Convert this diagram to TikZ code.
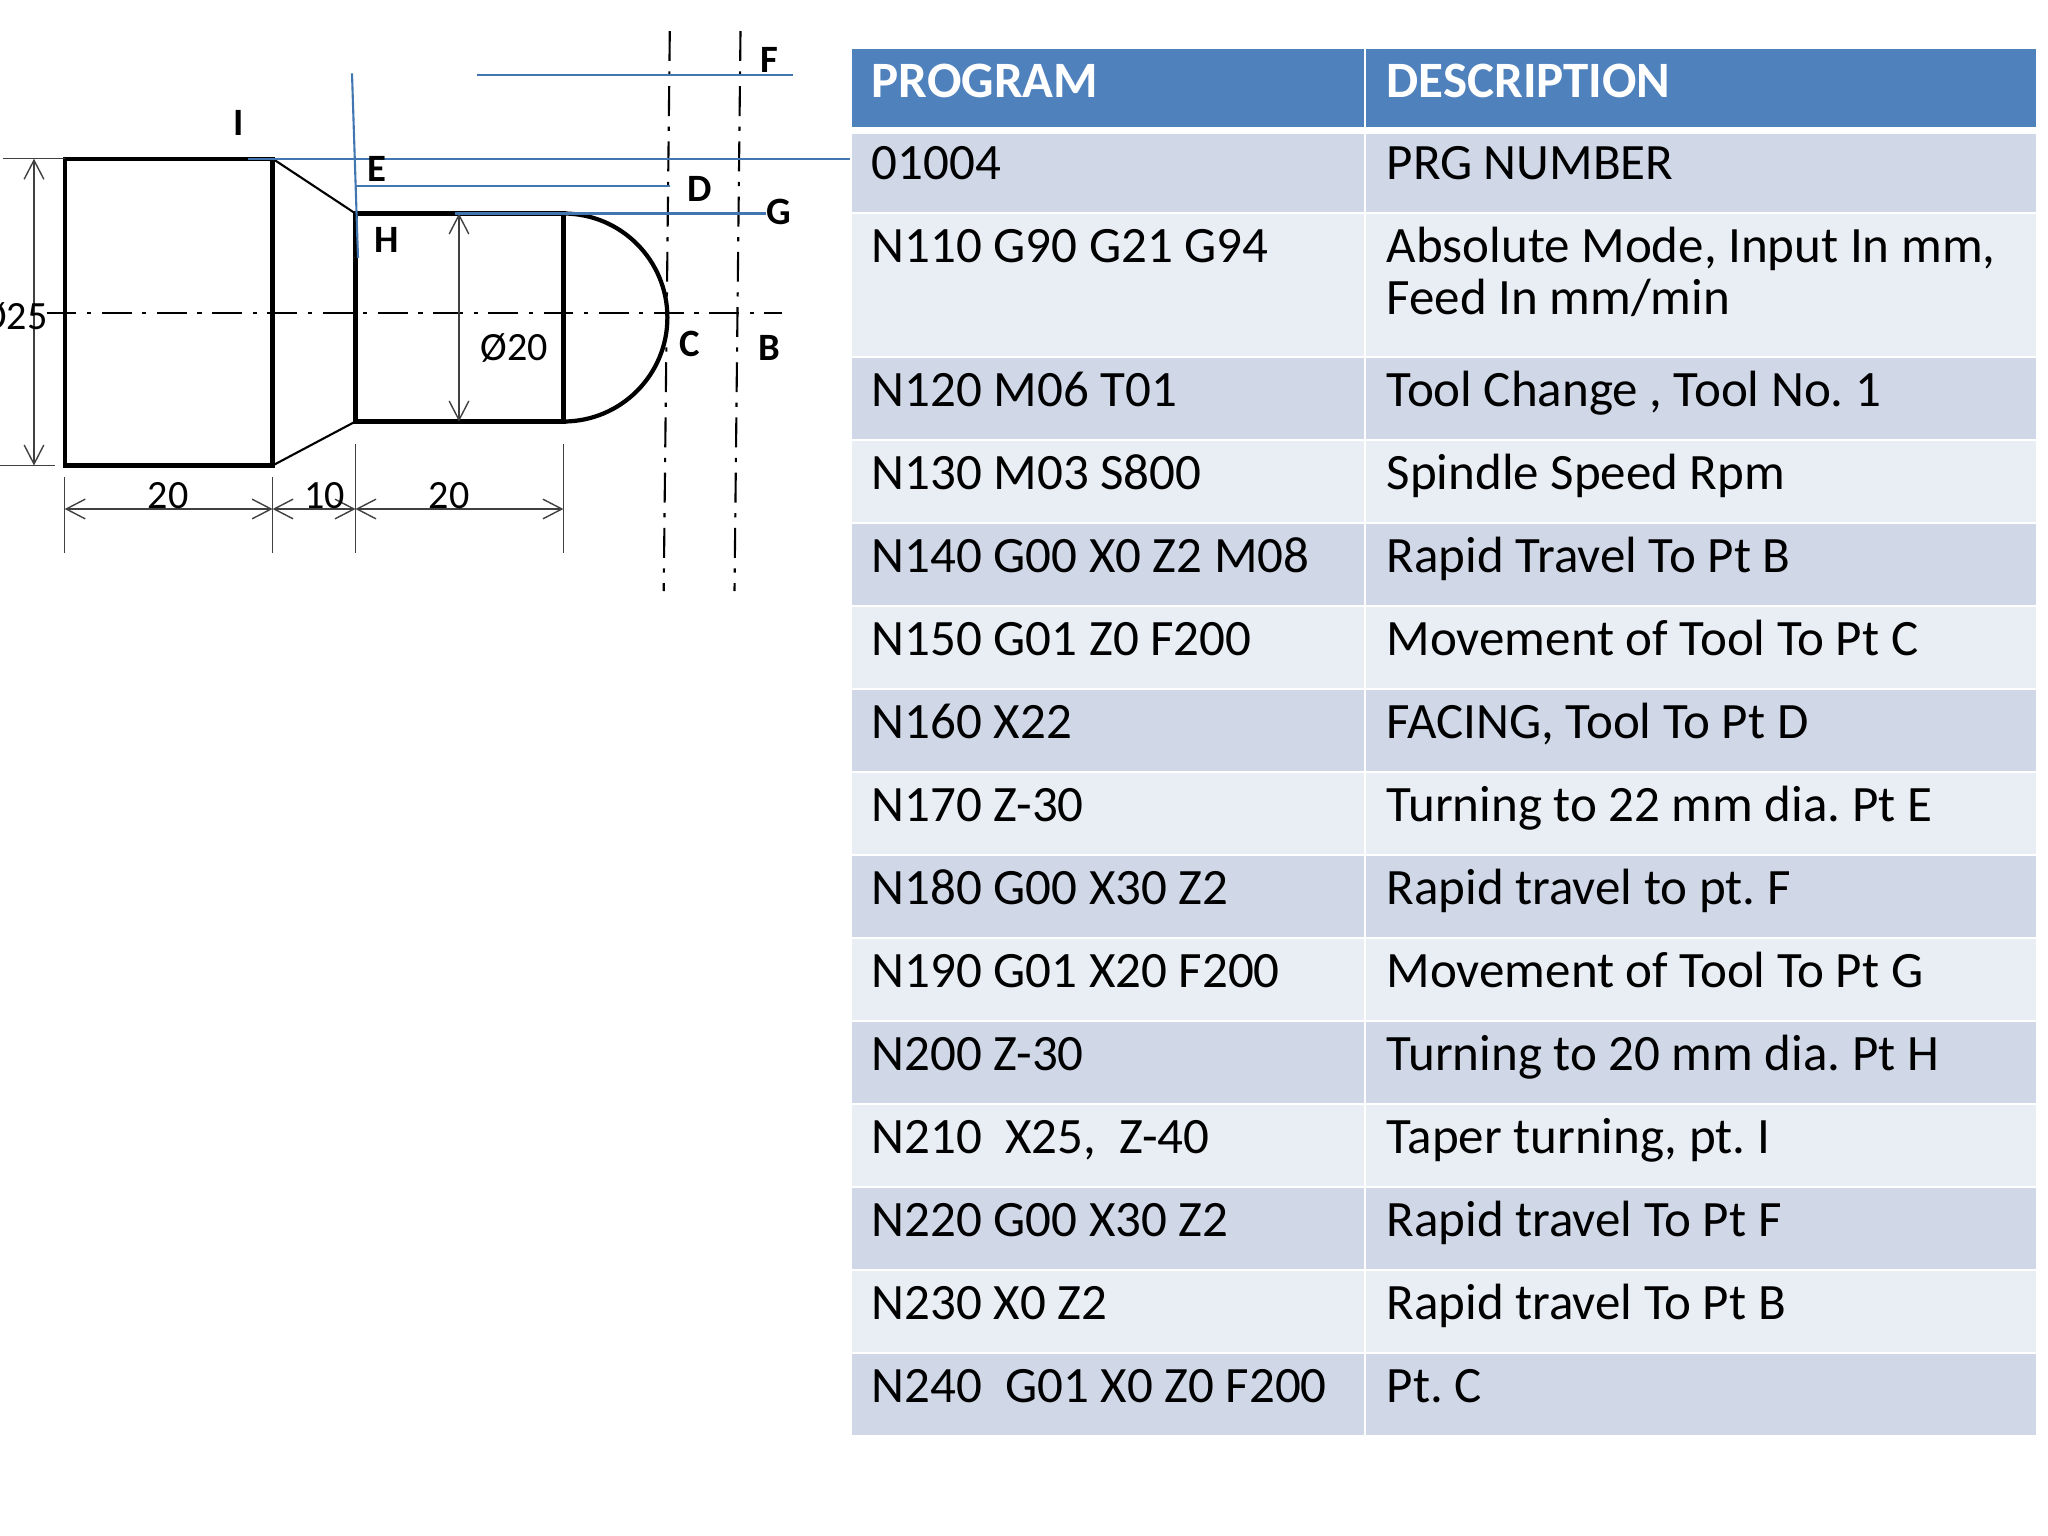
\documentclass[tikz,border=0pt]{standalone}
\usepackage{fontspec}
\setmainfont{Carlito}
\usetikzlibrary{arrows.meta}
\frenchspacing
\definecolor{headblue}{HTML}{4F81BD}
\definecolor{rowdark}{HTML}{D0D8E8}
\definecolor{rowlight}{HTML}{E9EDF4}
\definecolor{toolblue}{HTML}{4276B0}
\definecolor{dimgrey}{HTML}{404040}
\tikzset{
    partline/.style={black,line width=1.2pt},
    taperline/.style={black,line width=0.6pt},
    dimline/.style={dimgrey,line width=0.4pt},
    centerline/.style={black,line width=0.6pt,dash pattern=on 8.5pt off 3pt on 1.2pt off 3pt},
    toolline/.style={toolblue,line width=0.6pt},
    dimtext/.style={inner sep=0pt,font=\fontsize{11.4}{13.7}\selectfont},
    pointtext/.style={inner sep=0pt,font=\fontsize{11}{13.2}\selectfont\bfseries},
    celltext/.style={anchor=base west,inner sep=0pt,font=\fontsize{14.5}{17.4}\selectfont},
    headtext/.style={celltext,white,font=\fontsize{14.5}{17.4}\selectfont\bfseries},
    >={Straight Barb[length=5.4pt,width=5.6pt]}
}
\begin{document}
\begin{tikzpicture}[x=0.01cm,y=-0.01cm]
        \useasboundingbox (0,0) rectangle (2048,1536);
        % table
        \fill[headblue] (852,49) rectangle (1364,127);
        \fill[headblue] (1366,49) rectangle (2036,127);
        \node[headtext] (headprog) at (871,97) {PROGRAM};
        \node[headtext] (headdesc) at (1386,97) {DESCRIPTION};
        \fill[rowdark] (852,134) rectangle (1364,212);
        \fill[rowdark] (1366,134) rectangle (2036,212);
        \node[celltext] (prognum) at (871,179.5) {01004};
        \node[celltext] (descnum) at (1386,179.5) {PRG NUMBER};
        \fill[rowlight] (852,214) rectangle (1364,356);
        \fill[rowlight] (1366,214) rectangle (2036,356);
        \node[celltext] (prgmode) at (871,262.5) {N110 G90 G21 G94};
        \node[celltext] (descmode) at (1386,262.5) {Absolute Mode, Input In mm,};
        \node[celltext] (descfeed) at (1386,314) {Feed In mm/min};
        \foreach \t/\rowcol/\prog/\desc in {
            358/rowdark/{N120 M06 T01}/{Tool Change , Tool No. 1},
            441/rowlight/{N130 M03 S800}/{Spindle Speed Rpm},
            524/rowdark/{N140 G00 X0 Z2 M08}/{Rapid Travel To Pt B},
            607/rowlight/{N150 G01 Z0 F200}/{Movement of Tool To Pt C},
            690/rowdark/{N160 X22}/{FACING, Tool To Pt D},
            773/rowlight/{N170 Z-30}/{Turning to 22 mm dia. Pt E},
            856/rowdark/{N180 G00 X30 Z2}/{Rapid travel to pt. F},
            939/rowlight/{N190 G01 X20 F200}/{Movement of Tool To Pt G},
            1022/rowdark/{N200 Z-30}/{Turning to 20 mm dia. Pt H},
            1105/rowlight/{N210\ \ X25,\ \ Z-40}/{Taper turning, pt. I},
            1188/rowdark/{N220 G00 X30 Z2}/{Rapid travel To Pt F},
            1271/rowlight/{N230 X0 Z2}/{Rapid travel To Pt B},
            1354/rowdark/{N240\ \ G01 X0 Z0 F200}/{Pt. C}}
        {
            \fill[\rowcol] (852,\t) rectangle (1364,\t+81);
            \fill[\rowcol] (1366,\t) rectangle (2036,\t+81);
            \node[celltext] (prog\t) at (871,\t+48.5) {\prog};
            \node[celltext] (desc\t) at (1386,\t+48.5) {\desc};
        }
        % part outline
        \draw[partline] (64.7,158.7) rectangle (272.6,465.5);
        \draw[partline] (355.5,213.5) rectangle (563.4,421.5);
        \draw[partline] (563.4,213.5) arc[start angle=-90,end angle=90,x radius=104,y radius=104];
        \draw[taperline] (272.6,158.7) -- (355.5,213.5);
        \draw[taperline] (272.6,465.5) -- (355.5,421.5);
        % centre lines
        \draw[centerline] (46.6,312.7) -- (781.7,312.7);
        \draw[centerline] (669.8,31) -- (663.7,591);
        \draw[centerline] (740.5,31) -- (734.5,591);
        % dimensions
        \draw[dimline] (2.7,158.7) -- (64.7,158.7);
        \draw[dimline] (0,465.5) -- (55,465.5);
        \draw[dimline,<->] (34,158.7) -- (34,465.5);
        \draw[dimline,<->] (459,213.5) -- (459,421.5);
        \foreach \x in {64.7,272.6}
        \draw[dimline] (\x,477) -- (\x,553);
        \foreach \x in {355.5,563.4}
        \draw[dimline] (\x,444) -- (\x,553);
        \draw[dimline,<->] (64.7,509) -- (272.6,509);
        \draw[dimline,<->] (272.6,509) -- (355.5,509);
        \draw[dimline,<->] (355.5,509) -- (563.4,509);
        \node[dimtext] (lena) at (168,496) {20};
        \node[dimtext] (lenb) at (324.7,496) {10};
        \node[dimtext] (lenc) at (449,496) {20};
        \node[dimtext] (diasmall) at (514,348) {Ø20};
        \node[dimtext,anchor=east] (diabig) at (48,317) {Ø25};
        % tool path
        \draw[toolline] (477,74.6) -- (793,74.6);
        \draw[toolline] (248,158.7) -- (850,158.7);
        \draw[toolline] (355.5,186) -- (670,186);
        \draw[toolline] (455,213.5) -- (766,213.5);
        \draw[toolline] (352,73.4) -- (358,258);
        % points
        \node[pointtext] (ptI) at (239,123) {I};
        \node[pointtext] (ptE) at (376.5,169) {E};
        \node[pointtext] (ptD) at (699.5,188.5) {D};
        \node[pointtext] (ptG) at (779,212) {G};
        \node[pointtext] (ptH) at (386.5,240) {H};
        \node[pointtext] (ptF) at (769,59.5) {F};
        \node[pointtext] (ptC) at (690,344) {C};
        \node[pointtext] (ptB) at (769.5,348) {B};
\end{tikzpicture}
\end{document}
